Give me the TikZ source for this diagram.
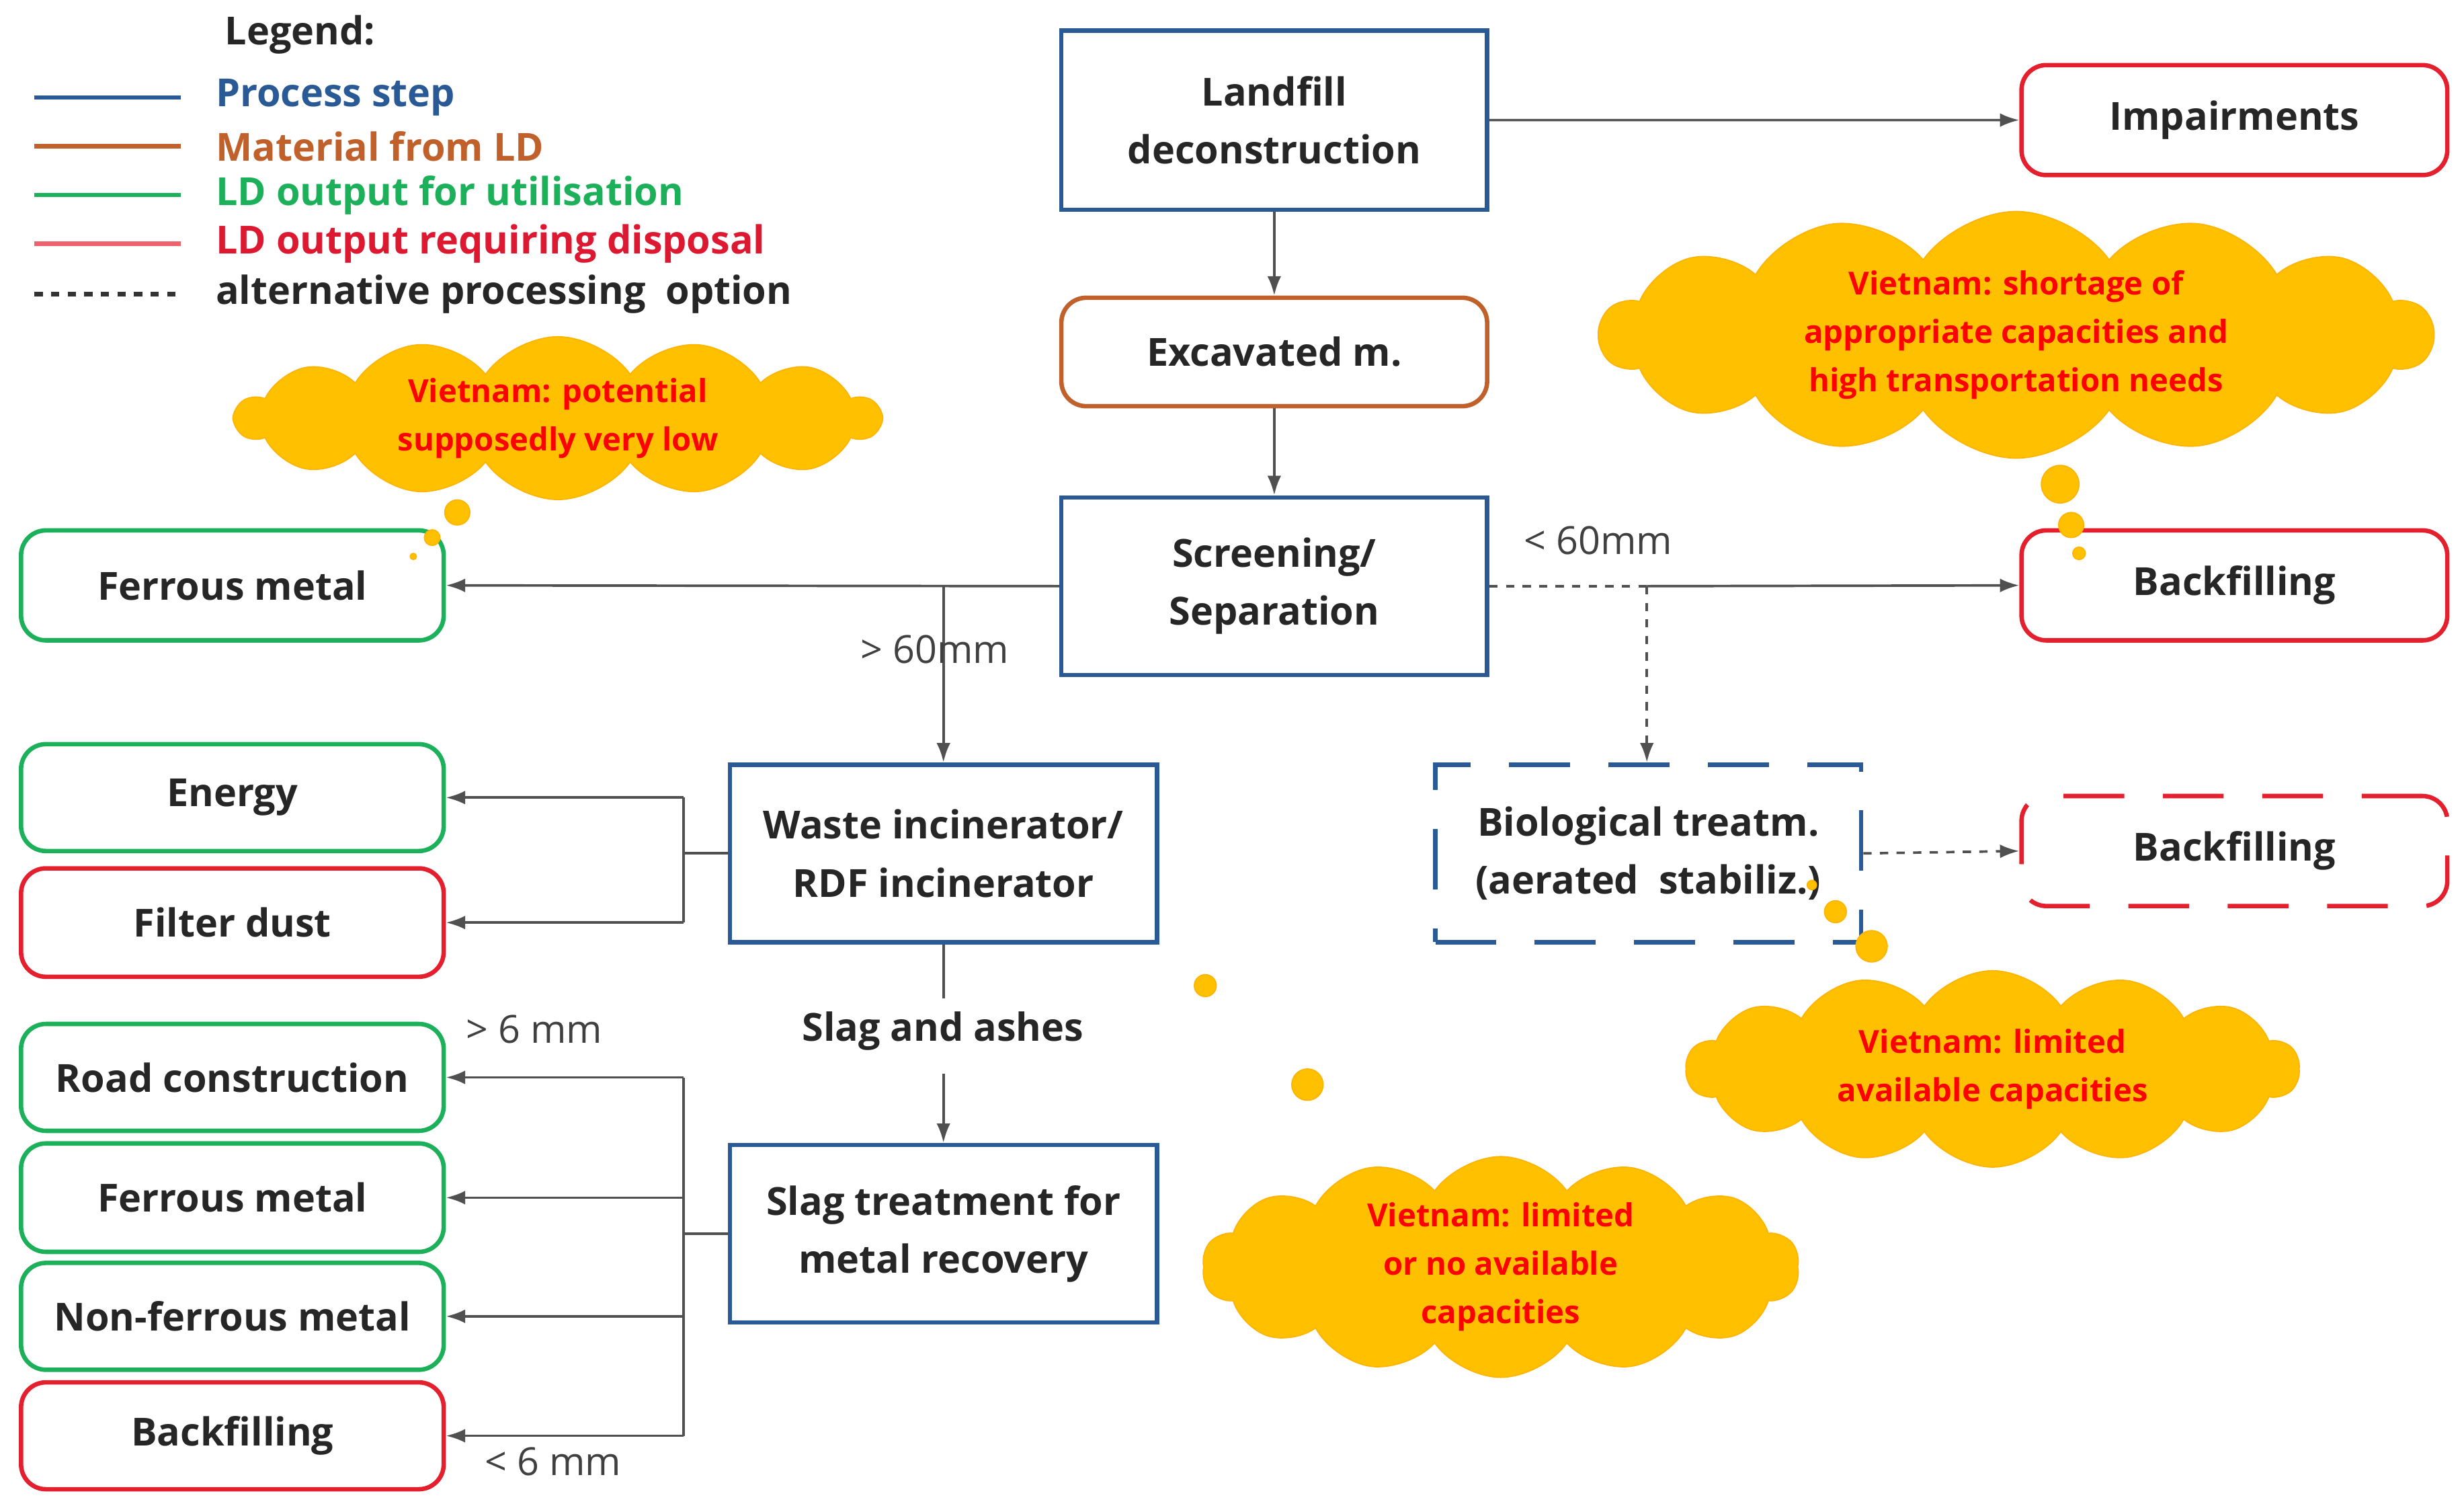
\documentclass[tikz,border=0pt]{standalone}
\usepackage{fontspec}
\setmainfont{Open Sans}
\usetikzlibrary{shapes.symbols,arrows.meta}
\definecolor{pblue}{HTML}{2A5A96}
\definecolor{pbrown}{HTML}{C0602A}
\definecolor{pgreen}{HTML}{1DB05A}
\definecolor{pred}{HTML}{E4202E}
\definecolor{cloudy}{HTML}{FFC000}
\definecolor{conn}{HTML}{505050}
\begin{document}
\begin{tikzpicture}[x=0.02cm,y=-0.02cm,
 txt/.style={font=\fontsize{14}{21}\selectfont\bfseries,align=center,text=black!85},
 box/.style={txt,draw,line width=1.6pt,anchor=north west,inner sep=0pt},
 proc/.style={box,draw=pblue},
 obox/.style={box,rounded corners=9pt},
 gbox/.style={obox,draw=pgreen},
 rbox/.style={obox,draw=pred},
 cl/.style={cloud,cloud puffs=14,cloud puff arc=110,cloud ignores aspect,fill=cloudy,draw=cloudy!80!orange,
   font=\fontsize{11.5}{17.5}\selectfont\bfseries,text=red,align=center,inner sep=0pt},
 bub/.style={fill=cloudy,draw=cloudy!80!orange},
 ar/.style={draw=conn,line width=0.9pt,-{Latex[length=7pt,width=5pt]}},
 ln/.style={draw=conn,line width=0.9pt},
 lab/.style={font=\fontsize{14}{16}\selectfont,text=black!75}]
\useasboundingbox (0,0) rectangle (1568,958);
% legend
\node[txt,anchor=west] (lg) at (137,22) {Legend:};
\foreach \y/\c/\t/\n in {62/pblue/Process step/l1,93/pbrown/Material from LD/l2,124/pgreen/LD output for utilisation/l3}{
 \draw[\c,line width=1.6pt] (22,\y) -- (115,\y);
 \node[txt,anchor=west,text=\c,inner sep=0pt] (\n) at (137,\y) {\t};}
\draw[pred!70,line width=1.6pt] (22,155) -- (115,155);
\node[txt,anchor=west,text=pred!80!purple,inner sep=0pt] (l4) at (137,155) {LD output requiring disposal};
\draw[black!80,line width=1.6pt,dashed] (22,187) -- (115,187);
\node[txt,anchor=west,inner sep=0pt] (l5) at (137,187) {alternative processing\ \ option};
% boxes
\node[proc,minimum width=5.42cm,minimum height=2.28cm] (ld) at (674,18) {Landfill\\deconstruction};
\node[rbox,minimum width=5.42cm,minimum height=1.4cm] (imp) at (1285,40) {Impairments};
\node[obox,draw=pbrown,minimum width=5.42cm,minimum height=1.38cm] (exc) at (674,188) {Excavated m.};
\node[proc,minimum width=5.42cm,minimum height=2.26cm] (scr) at (674,315) {Screening/\\Separation};
\node[gbox,minimum width=5.38cm,minimum height=1.4cm] (fe1) at (12,336) {Ferrous metal};
\node[rbox,minimum width=5.42cm,minimum height=1.4cm] (bf1) at (1285,336) {Backfilling};
\node[proc,minimum width=5.44cm,minimum height=2.26cm] (wi) at (463,485) {Waste incinerator/\\RDF incinerator};
\node[proc,dash pattern=on 22pt off 14pt,minimum width=5.42cm,minimum height=2.26cm] (bio) at (912,485) {Biological treatm.\\(aerated\ \ stabiliz.)};
\node[rbox,dash pattern=on 22pt off 14pt,minimum width=5.42cm,minimum height=1.4cm] (bf2) at (1285,505) {Backfilling};
\node[gbox,minimum width=5.38cm,minimum height=1.36cm] (en) at (12,472) {Energy};
\node[rbox,minimum width=5.38cm,minimum height=1.38cm] (fd) at (12,551) {Filter dust};
\node[gbox,minimum width=5.38cm,minimum height=1.36cm] (rc) at (12,650) {Road construction};
\node[gbox,minimum width=5.38cm,minimum height=1.38cm] (fe2) at (12,726) {Ferrous metal};
\node[gbox,minimum width=5.38cm,minimum height=1.36cm] (nf) at (12,802) {Non-ferrous metal};
\node[rbox,minimum width=5.38cm,minimum height=1.36cm] (bf3) at (12,878) {Backfilling};
\node[proc,minimum width=5.44cm,minimum height=2.26cm] (sl) at (463,727) {Slag treatment for\\metal recovery};
% connectors
\draw[ar] (ld.east) -- (imp.west);
\draw[ar] (ld) -- (exc);
\draw[ar] (exc) -- (scr);
\draw[ar] (scr.west) -- (fe1.east);
\coordinate (s1) at (wi.north |- scr.west);
\draw[ar] (s1) -- (wi.north);
\node[lab] (g60) at (595,413) {> 60mm};
\coordinate (s2) at (1048,0 |- scr.east);
\coordinate (s3) at (s2 |- bio.north);
\draw[ln,dashed] (scr.east) -- (s2);
\draw[ar] (s2) -- (bf1.west);
\draw[ar,dashed] (s2) -- (s3);
\node[lab] (l60) at (1017,344) {< 60mm};
\draw[ar,dashed] (bio.east) -- (bf2.west);
\coordinate (w1) at (435,0 |- wi.west);
\coordinate (w1a) at (w1 |- en.east);
\coordinate (w1b) at (w1 |- fd.east);
\draw[ln] (wi.west) -- (w1);
\draw[ln] (w1a) -- (w1b);
\draw[ar] (w1a) -- (en.east);
\draw[ar] (w1b) -- (fd.east);
\node[txt] (sa) at (600,656) {Slag and ashes};
\coordinate (sa1) at (wi.south |- 0,635);
\coordinate (sa2) at (wi.south |- 0,683);
\draw[ln] (wi.south) -- (sa1);
\draw[ar] (sa2) -- (sl.north);
\coordinate (w2) at (435,0 |- sl.west);
\coordinate (r1) at (w2 |- rc.east);
\coordinate (r2) at (w2 |- fe2.east);
\coordinate (r3) at (w2 |- nf.east);
\coordinate (r4) at (w2 |- bf3.east);
\draw[ln] (sl.west) -- (w2);
\draw[ln] (r1) -- (r4);
\draw[ar] (r1) -- (rc.east);
\draw[ar] (r2) -- (fe2.east);
\draw[ar] (r3) -- (nf.east);
\draw[ar] (r4) -- (bf3.east);
\node[lab] (g6) at (340,655) {> 6 mm};
\node[lab] (l6) at (352,930) {< 6 mm};
% clouds
\node[cl,minimum width=8.2cm,minimum height=2.0cm] (c1) at (355,266) {Vietnam: potential\\supposedly very low};
\filldraw[bub] (291,326) circle (8) (275,342) circle (5) (263,354) circle (2);
\node[cl,minimum width=10.6cm,minimum height=3.0cm] (c2) at (1283,213) {Vietnam: shortage of\\appropriate capacities and\\high transportation needs};
\filldraw[bub] (1311,308) circle (12) (1318,334) circle (8) (1323,352) circle (4);
\node[cl,minimum width=7.8cm,minimum height=2.5cm] (c3) at (1268,680) {Vietnam: limited\\available capacities};
\filldraw[bub] (1191,602) circle (10) (1168,580) circle (7) (1153,563) circle (3);
\node[cl,minimum width=7.6cm,minimum height=2.5cm] (c4) at (955,806) {Vietnam: limited\\or no available\\capacities};
\filldraw[bub] (832,690) circle (10) (767,627) circle (7);
\end{tikzpicture}
\end{document}
